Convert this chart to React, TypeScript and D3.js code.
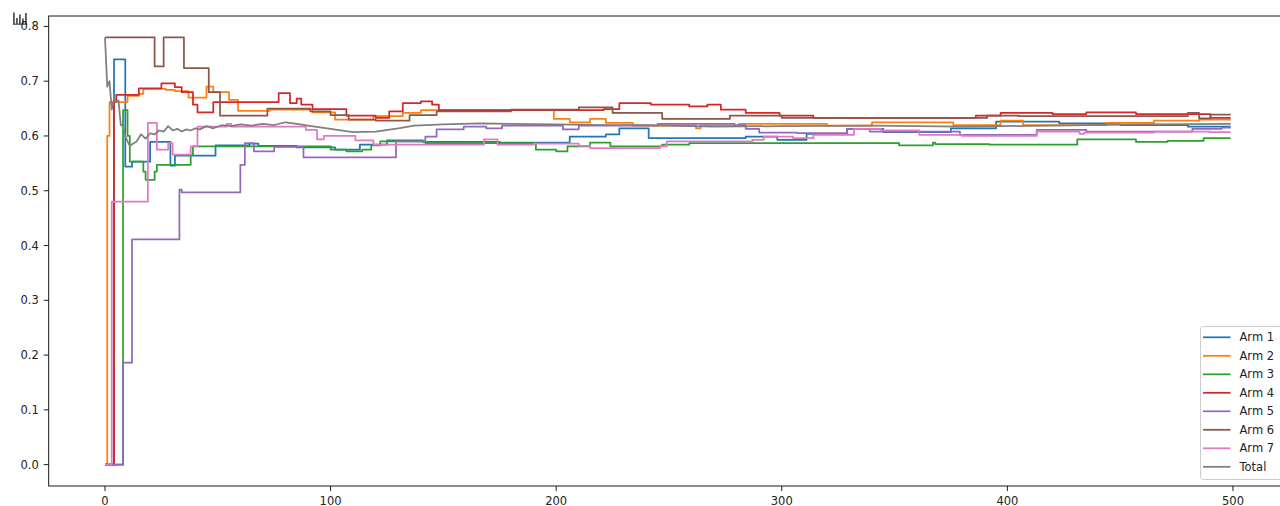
import * as d3 from "d3";

// step index -> value (value holds until next key)
const ARM1: [number, number][] = [
  [0, 0], [4, 0.74], [9, 0.544], [12, 0.553], [20, 0.589], [29, 0.546], [31, 0.564],
  [49, 0.583], [64, 0.586], [68, 0.582], [85, 0.579], [102, 0.575], [113, 0.584],
  [125, 0.592], [141, 0.589], [175, 0.588], [206, 0.599], [222, 0.603], [228, 0.614],
  [241, 0.596], [284, 0.599], [298, 0.593], [311, 0.604], [329, 0.613], [345, 0.607],
  [375, 0.614], [395, 0.626], [423, 0.623], [450, 0.62], [480, 0.617], [499, 0.617],
];
const ARM2: [number, number][] = [
  [0, 0], [1, 0.6], [2, 0.662], [10, 0.673], [15, 0.677], [17, 0.686], [27, 0.684],
  [31, 0.682], [37, 0.67], [45, 0.69], [48, 0.68], [55, 0.666], [59, 0.646], [73, 0.648],
  [92, 0.643], [102, 0.63], [119, 0.636], [132, 0.642], [140, 0.647], [199, 0.631],
  [206, 0.625], [215, 0.631], [222, 0.624], [234, 0.619], [262, 0.614], [264, 0.619],
  [281, 0.622], [320, 0.619], [340, 0.625], [376, 0.62], [397, 0.628], [407, 0.62],
  [444, 0.624], [465, 0.628], [485, 0.63], [499, 0.63],
];
const ARM3: [number, number][] = [
  [0, 0], [8, 0.647], [10, 0.6], [11, 0.553], [17, 0.535], [18, 0.52], [22, 0.535],
  [23, 0.547], [38, 0.565], [39, 0.581], [100, 0.575], [107, 0.572], [114, 0.575],
  [118, 0.583], [122, 0.59], [142, 0.587], [191, 0.575], [200, 0.572], [205, 0.581],
  [215, 0.588], [224, 0.581], [247, 0.584], [259, 0.587], [352, 0.583], [367, 0.588],
  [368, 0.585], [392, 0.584], [431, 0.594], [457, 0.589], [471, 0.591], [487, 0.596],
  [499, 0.596],
];
const ARM4: [number, number][] = [
  [0, 0], [4, 0.665], [5, 0.675], [15, 0.687], [25, 0.696], [31, 0.689], [34, 0.68],
  [39, 0.657], [41, 0.643], [48, 0.662], [77, 0.678], [82, 0.66], [85, 0.668], [87, 0.657],
  [92, 0.649], [107, 0.637], [120, 0.633], [126, 0.645], [132, 0.66], [140, 0.663],
  [145, 0.657], [148, 0.647], [221, 0.649], [228, 0.66], [242, 0.657], [259, 0.654],
  [267, 0.657], [273, 0.648], [284, 0.642], [299, 0.637], [314, 0.633], [386, 0.637],
  [397, 0.642], [420, 0.64], [435, 0.643], [457, 0.64], [490, 0.633], [499, 0.633],
];
const ARM5: [number, number][] = [
  [0, 0], [8, 0.186], [12, 0.411], [33, 0.502], [34, 0.497], [60, 0.547], [62, 0.587],
  [66, 0.572], [75, 0.58], [88, 0.561], [129, 0.59], [142, 0.599], [147, 0.612],
  [159, 0.617], [169, 0.614], [176, 0.619], [203, 0.612], [210, 0.619], [245, 0.622],
  [279, 0.62], [284, 0.613], [290, 0.606], [307, 0.605], [329, 0.613], [339, 0.608],
  [379, 0.602], [413, 0.611], [435, 0.608], [482, 0.613], [495, 0.615], [499, 0.615],
];
const ARM6: [number, number][] = [
  [0, 0.78], [22, 0.727], [26, 0.78], [35, 0.724], [46, 0.68], [51, 0.637], [72, 0.65],
  [91, 0.645], [100, 0.638], [108, 0.63], [120, 0.628], [135, 0.638], [147, 0.645],
  [180, 0.648], [210, 0.652], [225, 0.642], [247, 0.631], [277, 0.637], [300, 0.633],
  [391, 0.637], [405, 0.636], [480, 0.642], [485, 0.632], [490, 0.639], [499, 0.639],
];
const ARM7: [number, number][] = [
  [0, 0], [3, 0.48], [19, 0.624], [23, 0.575], [28, 0.587], [30, 0.566], [38, 0.581],
  [41, 0.617], [54, 0.622], [56, 0.617], [89, 0.611], [94, 0.594], [97, 0.6], [111, 0.592],
  [119, 0.584], [168, 0.594], [174, 0.584], [190, 0.586], [210, 0.582], [215, 0.578],
  [246, 0.581], [249, 0.59], [287, 0.593], [292, 0.599], [305, 0.596], [314, 0.602],
  [332, 0.613], [344, 0.61], [361, 0.602], [380, 0.6], [413, 0.608], [432, 0.604],
  [434, 0.606], [465, 0.608], [490, 0.607], [499, 0.607],
];
// running total, drawn point to point
const TOTAL: [number, number][] = [
  [0, 0.78], [1, 0.69], [2, 0.7], [3, 0.648], [4, 0.668], [5, 0.662], [6, 0.665],
  [7, 0.62], [8, 0.618], [9, 0.6], [10, 0.59], [11, 0.582], [12, 0.585], [14, 0.59],
  [16, 0.603], [18, 0.595], [20, 0.605], [22, 0.603], [24, 0.61], [26, 0.608],
  [28, 0.618], [30, 0.61], [32, 0.613], [34, 0.608], [36, 0.612], [38, 0.61], [40, 0.614],
  [42, 0.612], [45, 0.618], [48, 0.614], [52, 0.62], [56, 0.618], [60, 0.621], [65, 0.619],
  [70, 0.622], [75, 0.62], [80, 0.625], [85, 0.622], [90, 0.619], [100, 0.613],
  [110, 0.607], [120, 0.608], [130, 0.614], [137, 0.619], [150, 0.621], [166, 0.623],
  [180, 0.622], [200, 0.621], [220, 0.62], [240, 0.62], [270, 0.617], [300, 0.618],
  [340, 0.619], [380, 0.617], [420, 0.619], [460, 0.621], [499, 0.622],
];

const LABELS = ["Arm 1", "Arm 2", "Arm 3", "Arm 4", "Arm 5", "Arm 6", "Arm 7", "Total"];
const COLORS = ["#1f77b4", "#ff7f0e", "#2ca02c", "#d62728", "#9467bd", "#8c564b", "#e377c2", "#7f7f7f"];
const X_TICKS = [0, 100, 200, 300, 400, 500];
const Y_TICKS = [0, 0.1, 0.2, 0.3, 0.4, 0.5, 0.6, 0.7, 0.8];

const W = 1280;
const H = 506;
const FONT = "DejaVu Sans, sans-serif";

const x = d3.scaleLinear().domain([-24.95, 523.95]).range([48.7, 1287]);
const y = d3.scaleLinear().domain([-0.039, 0.819]).range([486, 16]);

const stepLine = d3.line<[number, number]>()
  .x((d) => x(d[0]))
  .y((d) => y(d[1]))
  .curve(d3.curveStepAfter);
const plainLine = d3.line<[number, number]>()
  .x((d) => x(d[0]))
  .y((d) => y(d[1]));

const series = [ARM1, ARM2, ARM3, ARM4, ARM5, ARM6, ARM7, TOTAL].map((pts, i) => ({
  label: LABELS[i],
  color: COLORS[i],
  d: (i === 7 ? plainLine : stepLine)(pts) || "",
}));

export default function App() {
  const [x0, x1] = x.range();
  const [yb, yt] = y.range();
  return (
    <svg width={W} height={H} style={{ position: "absolute", left: 0, top: 0, background: "#fff" }}>
      <defs>
        <clipPath id="plot">
          <rect x={x0} y={yt} width={x1 - x0} height={yb - yt} />
        </clipPath>
      </defs>

      {/* little toolbar icon */}
      <g fill="#555">
        <rect x={13} y={12.5} width={1.8} height={12} />
        <rect x={16} y={18} width={1.8} height={6.5} />
        <rect x={19} y={14.5} width={1.8} height={10} />
        <rect x={22} y={18.5} width={1.8} height={6} />
        <rect x={25} y={13} width={1.8} height={11.5} />
        <rect x={13} y={23.5} width={14} height={1.3} />
      </g>

      <g clipPath="url(#plot)" fill="none" strokeWidth={1.75} strokeLinejoin="round">
        {series.map((s) => (
          <path key={s.label} d={s.d} stroke={s.color} />
        ))}
      </g>

      {/* spines */}
      <rect x={x0} y={yt} width={x1 - x0} height={yb - yt} fill="none" stroke="#000" strokeWidth={0.9} />

      {X_TICKS.map((t) => (
        <g key={t} transform={`translate(${x(t)},${yb})`}>
          <line y2={5} stroke="#000" strokeWidth={0.9} />
          <text y={18.5} textAnchor="middle" fontFamily={FONT} fontSize={11.5} fill="#222">
            {t}
          </text>
        </g>
      ))}
      {Y_TICKS.map((t) => (
        <g key={t} transform={`translate(${x0},${y(t)})`}>
          <line x2={-5} stroke="#000" strokeWidth={0.9} />
          <text x={-10} dy="0.35em" textAnchor="end" fontFamily={FONT} fontSize={11.5} fill="#222">
            {t.toFixed(1)}
          </text>
        </g>
      ))}

      {/* legend */}
      <rect x={1200.5} y={326.5} width={92} height={153} rx={3} fill="#fff" fillOpacity={0.8} stroke="#cccccc" />
      {series.map((s, i) => (
        <g key={s.label} transform={`translate(1203,${337.3 + i * 18.5})`}>
          <line x2={27.5} stroke={s.color} strokeWidth={1.75} />
          <text x={36.5} dy="0.35em" fontFamily={FONT} fontSize={11.5} fill="#222">
            {s.label}
          </text>
        </g>
      ))}
    </svg>
  );
}
